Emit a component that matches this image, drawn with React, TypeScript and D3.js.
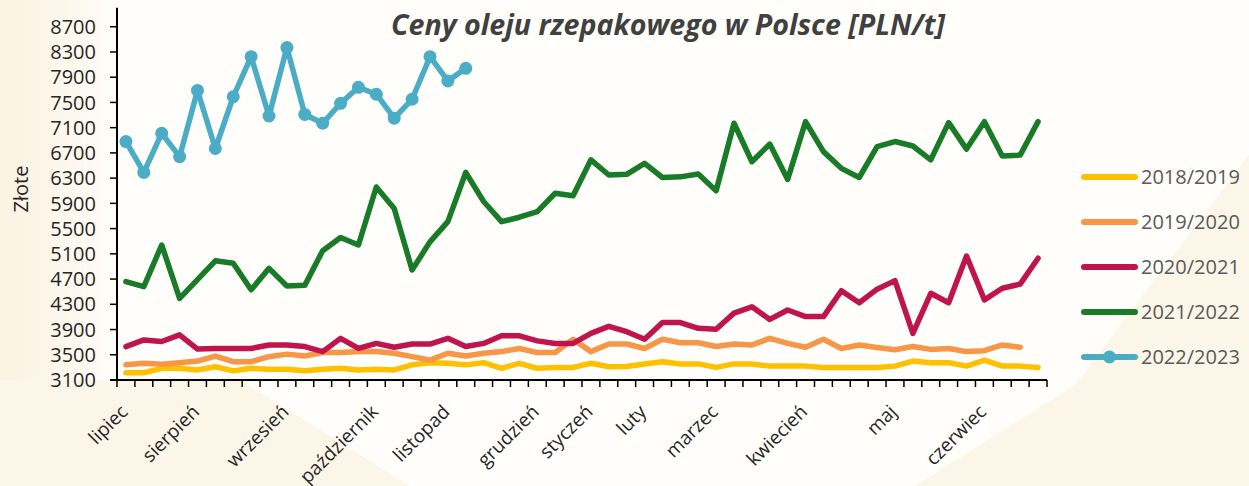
import React from "react";
import * as d3 from "d3";

// ---- data ----
const weeks: number[] = Array.from({ length: 52 }, (_, i) => i + 1);

const monthLabels = ["lipiec", "sierpień", "wrzesień", "październik", "listopad", "grudzień", "styczeń", "luty", "marzec", "kwiecień", "maj", "czerwiec"];
const monthWeeks = [1, 5, 10, 15, 19, 24, 27, 30, 34, 39, 44, 49];

const yTicks = [3100, 3500, 3900, 4300, 4700, 5100, 5500, 5900, 6300, 6700, 7100, 7500, 7900, 8300, 8700];

const s2018 = [3215, 3215, 3285, 3285, 3260, 3310, 3245, 3285, 3270, 3270, 3245, 3270, 3285, 3260, 3270, 3260, 3340, 3375, 3365, 3340, 3375, 3285, 3365, 3285, 3300, 3300, 3365, 3310, 3315, 3355, 3390, 3355, 3355, 3300, 3355, 3355, 3320, 3320, 3320, 3300, 3300, 3300, 3300, 3320, 3400, 3375, 3375, 3320, 3415, 3320, 3320, 3300];
const s2019 = [3340, 3365, 3350, 3375, 3400, 3480, 3390, 3390, 3470, 3510, 3480, 3535, 3535, 3550, 3550, 3525, 3470, 3415, 3525, 3480, 3525, 3550, 3600, 3535, 3535, 3745, 3550, 3670, 3670, 3600, 3745, 3690, 3690, 3630, 3670, 3655, 3760, 3680, 3620, 3745, 3600, 3655, 3615, 3580, 3630, 3585, 3600, 3550, 3565, 3655, 3620];
const s2020 = [3630, 3735, 3710, 3815, 3590, 3600, 3600, 3600, 3655, 3655, 3630, 3550, 3760, 3600, 3680, 3620, 3670, 3670, 3760, 3630, 3680, 3800, 3800, 3720, 3680, 3680, 3840, 3950, 3865, 3745, 4010, 4010, 3920, 3905, 4160, 4260, 4060, 4210, 4105, 4105, 4515, 4325, 4540, 4675, 3840, 4475, 4325, 5065, 4370, 4555, 4620, 5030];
const s2021 = [4660, 4580, 5240, 4395, 4690, 4990, 4950, 4530, 4870, 4590, 4600, 5150, 5360, 5240, 6160, 5820, 4845, 5290, 5610, 6390, 5930, 5610, 5680, 5770, 6060, 6020, 6590, 6350, 6360, 6535, 6310, 6320, 6365, 6100, 7170, 6560, 6840, 6280, 7195, 6720, 6455, 6310, 6800, 6880, 6810, 6590, 7180, 6760, 7195, 6650, 6665, 7195];
const s2022 = [6880, 6390, 7010, 6640, 7690, 6770, 7590, 8225, 7285, 8370, 7310, 7170, 7485, 7740, 7630, 7250, 7550, 8225, 7840, 8040];

const seriesNames = ["2018/2019", "2019/2020", "2020/2021", "2021/2022", "2022/2023"];
const seriesColors = ["#FFC000", "#F79646", "#C0154C", "#197A27", "#4BACC6"];
const seriesData = [s2018, s2019, s2020, s2021, s2022];

const W = 1249;
const H = 486;
const FONT = "'Open Sans', Lato, sans-serif";

export default function App() {
  const x = d3.scaleBand<number>().domain(weeks).range([117, 1047]).paddingInner(0).paddingOuter(0);
  const cx = (w: number) => (x(w) as number) + x.bandwidth() / 2;
  const y = d3.scaleLinear().domain([3100, 9000]).range([380, 7.8]);
  const line = d3
    .line<number>()
    .x((_, i) => cx(weeks[i]))
    .y((d) => y(d));

  const [x0, x1] = x.range();
  const [yBot, yTop] = y.range();
  const boundaries = weeks.map((w) => x(w) as number).concat([x1]);

  const legendY = [177, 222, 267, 312, 357];

  return (
    <svg
      width={W}
      height={H}
      viewBox={`0 0 ${W} ${H}`}
      style={{ position: "absolute", left: 0, top: 0, display: "block" }}
    >
      <defs>
        <linearGradient id="leftFade" x1="0" x2="1" y1="0" y2="0">
          <stop offset="0" stopColor="#FBF3E2" />
          <stop offset="0.35" stopColor="#FCF6E9" />
          <stop offset="1" stopColor="#FFFEFB" />
        </linearGradient>
      </defs>
      <rect x={0} y={0} width={W} height={H} fill="#FFFEFB" />
      <rect x={0} y={0} width={130} height={H} fill="url(#leftFade)" />
      <polygon points={`0,380 240,380 410,${H} 0,${H}`} fill="#FCF6E8" />
      <polygon points={`${W},155 ${W},${H} 915,${H} 1075,385`} fill="#FCF6E8" />

      {/* title */}
      <text
        x={668}
        y={35}
        textAnchor="middle"
        fontFamily={FONT}
        fontSize={28}
        fontWeight="bold"
        fontStyle="italic"
        fill="#404040"
        textLength={554}
        lengthAdjust="spacingAndGlyphs"
      >
        Ceny oleju rzepakowego w Polsce [PLN/t]
      </text>

      {/* y axis title */}
      <text
        transform={`translate(28,189) rotate(-90)`}
        textAnchor="middle"
        fontFamily={FONT}
        fontSize={20}
        fill="#262626"
      >
        Złote
      </text>

      {/* series */}
      {seriesData.map((d, i) => (
        <path
          key={seriesNames[i]}
          d={line(d) || ""}
          fill="none"
          stroke={seriesColors[i]}
          strokeWidth={5.5}
          strokeLinejoin="round"
          strokeLinecap="round"
        />
      ))}
      {s2022.map((v, i) => (
        <circle key={i} cx={cx(weeks[i])} cy={y(v)} r={6.5} fill="#4BACC6" />
      ))}

      {/* axes */}
      <line x1={x0} x2={x0} y1={yTop} y2={yBot} stroke="#000" strokeWidth={2} />
      <line x1={x0 - 7} x2={x1} y1={yBot} y2={yBot} stroke="#000" strokeWidth={2} />
      {yTicks.map((t) => (
        <g key={t}>
          <line x1={x0 - 7} x2={x0} y1={y(t)} y2={y(t)} stroke="#000" strokeWidth={1.5} />
          <text
            x={96}
            y={y(t)}
            dy="0.36em"
            textAnchor="end"
            fontFamily={FONT}
            fontSize={20}
            fill="#262626"
          >
            {t}
          </text>
        </g>
      ))}
      {boundaries.map((b, i) => (
        <line key={i} x1={b} x2={b} y1={yBot} y2={yBot + 7} stroke="#000" strokeWidth={1.5} />
      ))}
      {monthLabels.map((m, i) => (
        <text
          key={m}
          transform={`translate(${cx(monthWeeks[i]) + 3},413) rotate(-45)`}
          textAnchor="end"
          fontFamily={FONT}
          fontSize={19}
          fill="#262626"
        >
          {m}
        </text>
      ))}

      {/* legend */}
      {seriesNames.map((n, i) => (
        <g key={n}>
          <line
            x1={1084}
            x2={1135}
            y1={legendY[i]}
            y2={legendY[i]}
            stroke={seriesColors[i]}
            strokeWidth={6}
            strokeLinecap="round"
          />
          {i === 4 && <circle cx={1109.5} cy={legendY[i]} r={6.5} fill={seriesColors[i]} />}
          <text
            x={1141}
            y={legendY[i]}
            dy="0.36em"
            fontFamily={FONT}
            fontSize={20}
            fill="#595959"
          >
            {n}
          </text>
        </g>
      ))}
    </svg>
  );
}
